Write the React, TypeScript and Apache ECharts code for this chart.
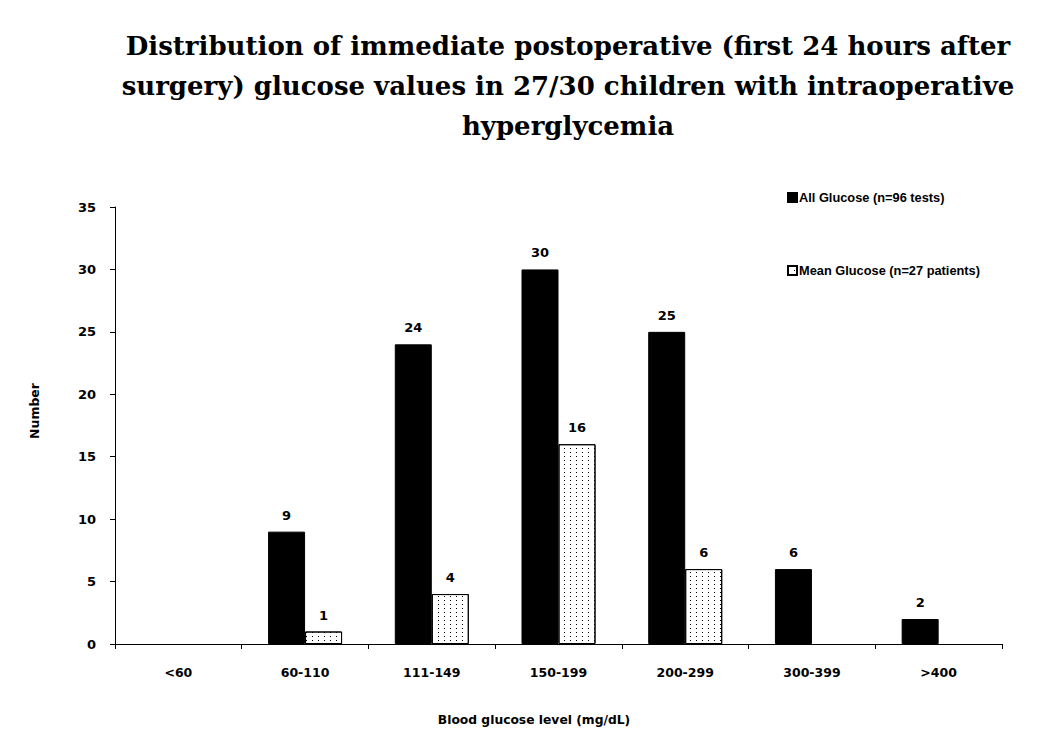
import React, { useEffect, useRef } from "react";
import * as echarts from "echarts";

const categories = ["<60", "60-110", "111-149", "150-199", "200-299", "300-399", ">400"];
const allGlucose = [null, 9, 24, 30, 25, 6, 2];
const meanGlucose = [null, 1, 4, 16, 6, null, null];
const yTicks = { min: 0, max: 35, interval: 5 };

const titleText =
  "Distribution of immediate postoperative (first 24 hours after\nsurgery) glucose values in 27/30 children with intraoperative\nhyperglycemia";
const xName = "Blood glucose level (mg/dL)";
const yName = "Number";

export default function App() {
  const ref = useRef<HTMLDivElement>(null);
  useEffect(() => {
    const chart = echarts.init(ref.current!, undefined, { renderer: "svg" });
    const sans = "'DejaVu Sans', sans-serif";
    const labelStyle = {
      show: true,
      position: "top" as const,
      distance: 10,
      color: "#000",
      fontWeight: "bold" as const,
      fontSize: 13,
      fontFamily: sans,
    };
    chart.setOption({
      animation: false,
      backgroundColor: "#fff",
      title: {
        text: titleText,
        left: 563,
        top: 21,
        textAlign: "center",
        textStyle: {
          fontFamily: "'DejaVu Serif', serif",
          fontWeight: "bold",
          fontSize: 26,
          lineHeight: 40,
          color: "#000",
        },
      },
      legend: {
        orient: "vertical",
        left: 782,
        top: 186,
        itemGap: 60,
        itemWidth: 9,
        itemHeight: 9,
        icon: "rect",
        selectedMode: false,
        textStyle: {
          fontFamily: "'Liberation Sans', sans-serif",
          fontWeight: "bold",
          fontSize: 12.8,
          color: "#000",
          padding: [0, 0, 0, -3],
        },
        data: [
          { name: "All Glucose (n=96 tests)" },
          { name: "Mean Glucose (n=27 patients)" },
        ],
      },
      graphic: [
        {
          type: "text",
          x: 534,
          y: 720,
          style: {
            text: xName,
            fontFamily: sans,
            fontWeight: "bold",
            fontSize: 12.3,
            fill: "#000",
            align: "center",
            verticalAlign: "middle",
          },
        },
        {
          type: "text",
          x: 34,
          y: 411,
          rotation: Math.PI / 2,
          style: {
            text: yName,
            fontFamily: sans,
            fontWeight: "bold",
            fontSize: 12.5,
            fill: "#000",
            align: "center",
            verticalAlign: "middle",
          },
        },
      ],
      grid: { left: 115, right: 48, top: 207, bottom: 112, containLabel: false },
      xAxis: {
        type: "category",
        data: categories,
        axisLine: { lineStyle: { color: "#000", width: 1 } },
        axisTick: { show: true, alignWithLabel: false, length: 5, lineStyle: { color: "#000" } },
        axisLabel: { color: "#000", fontFamily: sans, fontWeight: "bold", fontSize: 12.5, margin: 22 },
      },
      yAxis: {
        type: "value",
        min: yTicks.min,
        max: yTicks.max,
        interval: yTicks.interval,
        axisLine: { show: true, lineStyle: { color: "#000", width: 1 } },
        axisTick: { show: true, length: 5, lineStyle: { color: "#000" } },
        splitLine: { show: false },
        axisLabel: { color: "#000", fontFamily: sans, fontWeight: "bold", fontSize: 13, margin: 19 },
      },
      series: [
        {
          name: "All Glucose (n=96 tests)",
          type: "bar",
          data: allGlucose,
          barWidth: 37,
          barGap: "0%",
          itemStyle: { color: "#000", borderColor: "#000", borderWidth: 1 },
          label: labelStyle,
        },
        {
          name: "Mean Glucose (n=27 patients)",
          type: "bar",
          data: meanGlucose,
          barWidth: 37,
          barGap: "0%",
          itemStyle: {
            color: "#fff",
            borderColor: "#000",
            borderWidth: 1,
            decal: {
              symbol: "rect",
              symbolSize: 1,
              color: "#000",
              dashArrayX: [1, 5],
              dashArrayY: [1, 3],
              rotation: 0,
            },
          },
          label: labelStyle,
        },
      ],
    });
    return () => chart.dispose();
  }, []);
  return <div ref={ref} style={{ width: 1050, height: 756, position: "absolute", left: 0, top: 0 }} />;
}
